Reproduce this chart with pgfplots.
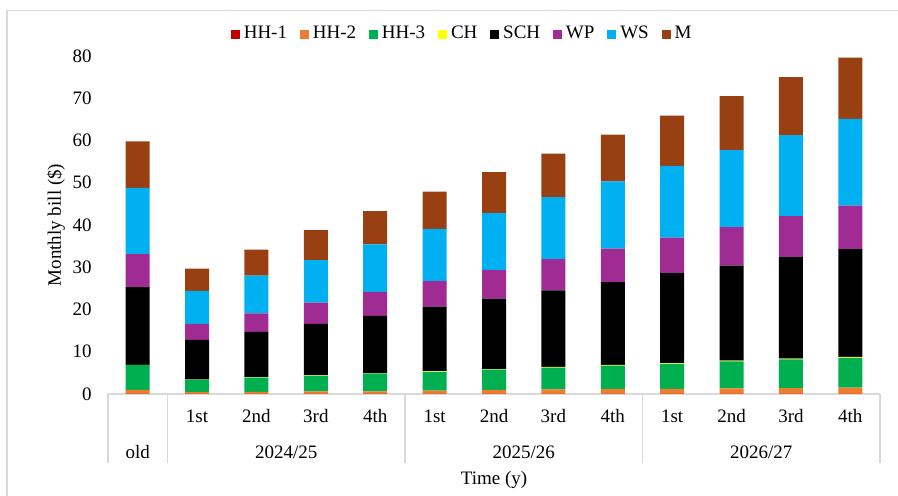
\documentclass[border=0pt]{standalone}
\usepackage{pgfplots}
\usepackage{pgfplotstable}
\pgfplotsset{compat=1.18}
\usepackage{fontspec}
\setmainfont{Liberation Serif}

\definecolor{cHHa}{HTML}{C00000}
\definecolor{cHHb}{HTML}{ED7D31}
\definecolor{cHHc}{HTML}{00B050}
\definecolor{cCH}{HTML}{FFFF00}
\definecolor{cSCH}{HTML}{000000}
\definecolor{cWP}{HTML}{A02B93}
\definecolor{cWS}{HTML}{00B0F0}
\definecolor{cM}{HTML}{984012}
\definecolor{linegray}{HTML}{D9D9D9}

% monthly bill components ($) per period: old tariff, then quarters of 2024/25-2026/27
\pgfplotstableread{
x  HHa  HHb  HHc  CH   SCH  WP   WS   M
0  0.05 0.90 5.90 0.05 18.4 7.8  15.7 11.0
1  0.05 0.40 2.90 0.05 9.4  3.8  7.8  5.3
2  0.05 0.45 3.40 0.10 10.7 4.4  8.9  6.2
3  0.05 0.55 3.70 0.10 12.2 5.0  10.1 7.1
4  0.05 0.60 4.15 0.10 13.6 5.7  11.2 7.9
5  0.05 0.75 4.45 0.15 15.3 6.0  12.4 8.8
6  0.05 0.90 4.80 0.15 16.7 6.7  13.5 9.7
7  0.05 1.05 5.15 0.15 18.1 7.4  14.7 10.3
8  0.05 1.15 5.50 0.20 19.6 7.9  15.9 11.1
9  0.05 1.15 5.90 0.20 21.3 8.4  17.0 11.9
10 0.05 1.30 6.35 0.20 22.5 9.1  18.2 12.8
11 0.05 1.35 6.80 0.20 24.0 9.7  19.2 13.7
12 0.05 1.45 7.05 0.25 25.5 10.3 20.5 14.5
}\billdata

\begin{document}
\fontsize{9.5pt}{11pt}\selectfont
\begin{tikzpicture}
\useasboundingbox (-54pt,-51pt) rectangle (395pt,197pt);
\draw[linegray, line width=0.6pt] (-50.5pt,-51pt) -- (-50.5pt,191.6pt) -- (395pt,191.6pt);
\begin{axis}[
  at={(0pt,0pt)}, anchor=south west,
  scale only axis, width=386pt, height=169pt,
  ybar stacked, bar width=12pt,
  xmin=-0.5, xmax=12.5, ymin=0, ymax=80,
  ytick={0,10,...,80},
  xtick={0,...,12},
  xticklabels={,1st,2nd,3rd,4th,1st,2nd,3rd,4th,1st,2nd,3rd,4th},
  x tick label style={anchor=center, yshift=-11pt, inner sep=0pt},
  y tick label style={anchor=east, inner sep=0pt, xshift=-8pt},
  /pgf/number format/assume math mode=true,
  tick style={draw=none},
  axis lines*=left,
  y axis line style={draw=none},
  x axis line style={draw=linegray, line width=0.6pt},
  xlabel={Time (y)},
  xlabel style={at={(axis description cs:0.5,0)}, anchor=center, yshift=-43pt},
  ylabel={Monthly bill (\$)},
  ylabel style={at={(axis description cs:-0.0674,0.5)}, anchor=center},
  legend style={at={(axis description cs:0.46,1.065)}, anchor=center,
    draw=none, fill=none, inner sep=0pt,
    /tikz/every even column/.append style={column sep=4.4pt}},
  legend columns=-1,
  legend image code/.code={\fill[#1] (0pt,-2.25pt) rectangle (4.5pt,2.25pt);},
  clip=false,
  every axis plot/.append style={draw=none},
]
\addplot[fill=cHHa] table[x=x,y=HHa] {\billdata};
\addplot[fill=cHHb] table[x=x,y=HHb] {\billdata};
\addplot[fill=cHHc] table[x=x,y=HHc] {\billdata};
\addplot[fill=cCH]  table[x=x,y=CH]  {\billdata};
\addplot[fill=cSCH] table[x=x,y=SCH] {\billdata};
\addplot[fill=cWP]  table[x=x,y=WP]  {\billdata};
\addplot[fill=cWS]  table[x=x,y=WS]  {\billdata};
\addplot[fill=cM]   table[x=x,y=M]   {\billdata};
\legend{HH-1,HH-2,HH-3,CH,SCH,WP,WS,M}

% two-level category axis: separators and period names
\draw[linegray, line width=0.6pt] (axis cs:-0.5,0) -- ++(0pt,-34.5pt);
\draw[linegray, line width=0.6pt] (axis cs:0.5,0) -- ++(0pt,-34.5pt);
\draw[linegray, line width=0.6pt] (axis cs:4.5,0) -- ++(0pt,-34.5pt);
\draw[linegray, line width=0.6pt] (axis cs:8.5,0) -- ++(0pt,-34.5pt);
\draw[linegray, line width=0.6pt] (axis cs:12.5,0) -- ++(0pt,-34.5pt);
\node[yshift=-29pt] at (axis cs:0,0) {old};
\node[yshift=-29pt] at (axis cs:2.5,0) {2024/25};
\node[yshift=-29pt] at (axis cs:6.5,0) {2025/26};
\node[yshift=-29pt] at (axis cs:10.5,0) {2026/27};
\end{axis}
\end{tikzpicture}
\end{document}
